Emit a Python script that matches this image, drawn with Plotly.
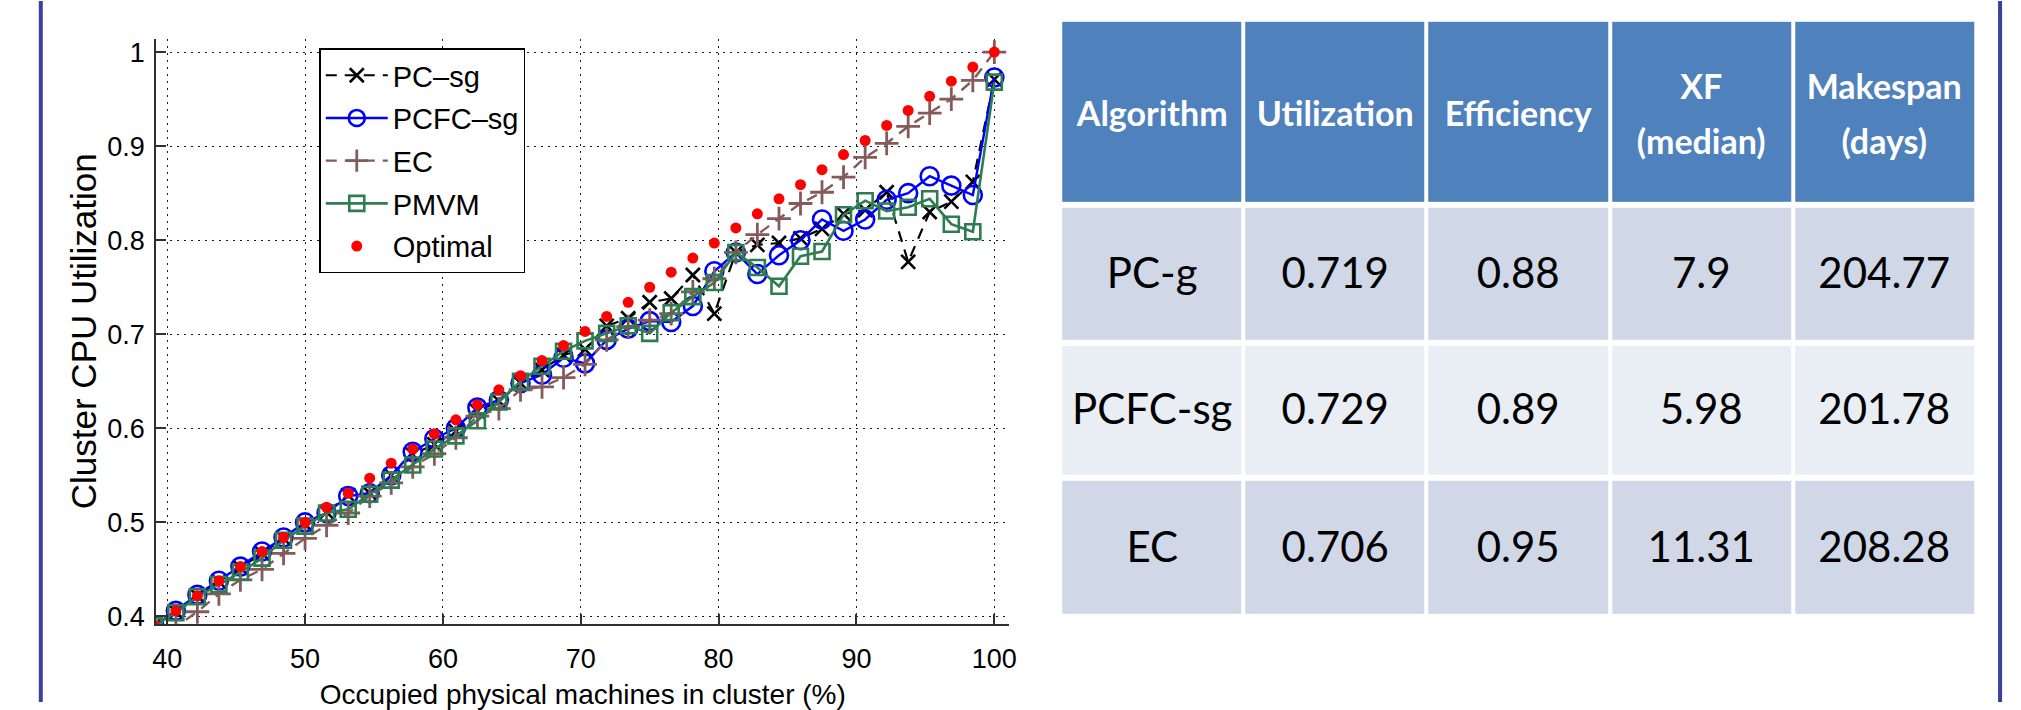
import plotly.graph_objects as go

# ---------------- data ----------------
occupied_pct = [39.06, 40.63, 42.19, 43.75, 45.31, 46.88, 48.44, 50.00, 51.56, 53.13,
                54.69, 56.25, 57.81, 59.38, 60.94, 62.50, 64.06, 65.63, 67.19, 68.75,
                70.31, 71.88, 73.44, 75.00, 76.56, 78.13, 79.69, 81.25, 82.81, 84.38,
                85.94, 87.50, 89.06, 90.63, 92.19, 93.75, 95.31, 96.88, 98.44, 100.00]

pc_sg = [0.390, 0.405, 0.422, 0.437, 0.452, 0.467, 0.483, 0.498, 0.511, 0.529,
         0.531, 0.550, 0.572, 0.583, 0.597, 0.618, 0.629, 0.648, 0.662, 0.678,
         0.684, 0.709, 0.717, 0.734, 0.738, 0.763, 0.722, 0.787, 0.795, 0.797,
         0.802, 0.812, 0.828, 0.832, 0.851, 0.777, 0.830, 0.841, 0.862, 0.971]

pcfc_sg = [0.390, 0.406, 0.423, 0.438, 0.453, 0.469, 0.484, 0.500, 0.510, 0.528,
           0.531, 0.550, 0.575, 0.589, 0.600, 0.622, 0.630, 0.648, 0.657, 0.675,
           0.669, 0.694, 0.706, 0.714, 0.713, 0.730, 0.767, 0.787, 0.764, 0.784,
           0.800, 0.822, 0.810, 0.822, 0.843, 0.850, 0.868, 0.858, 0.848, 0.973]

ec = [0.374, 0.389, 0.405, 0.424, 0.439, 0.450, 0.467, 0.483, 0.497, 0.510,
      0.528, 0.542, 0.559, 0.573, 0.590, 0.613, 0.621, 0.641, 0.644, 0.654,
      0.668, 0.694, 0.708, 0.715, 0.722, 0.745, 0.759, 0.787, 0.806, 0.823,
      0.839, 0.851, 0.867, 0.888, 0.903, 0.921, 0.935, 0.950, 0.970, 1.000]

pmvm = [0.390, 0.404, 0.421, 0.434, 0.447, 0.462, 0.481, 0.496, 0.510, 0.514,
        0.530, 0.545, 0.561, 0.578, 0.592, 0.608, 0.628, 0.650, 0.666, 0.682,
        0.693, 0.701, 0.709, 0.701, 0.723, 0.740, 0.755, 0.787, 0.771, 0.751,
        0.783, 0.788, 0.827, 0.842, 0.831, 0.835, 0.844, 0.817, 0.809, 0.968]

optimal = [0.391, 0.406, 0.422, 0.438, 0.453, 0.469, 0.484, 0.500, 0.516, 0.531,
           0.547, 0.563, 0.578, 0.594, 0.609, 0.625, 0.641, 0.656, 0.672, 0.688,
           0.703, 0.719, 0.734, 0.750, 0.766, 0.781, 0.797, 0.813, 0.828, 0.844,
           0.859, 0.875, 0.891, 0.906, 0.922, 0.938, 0.953, 0.969, 0.984, 1.000]

x_ticks = [40, 50, 60, 70, 80, 90, 100]
y_ticks = [0.4, 0.5, 0.6, 0.7, 0.8, 0.9, 1.0]
y_tick_labels = ["0.4", "0.5", "0.6", "0.7", "0.8", "0.9", "1"]

table_header = ["Algorithm", "Utilization", "Efficiency", "XF<br>(median)", "Makespan<br>(days)"]
algorithms = ["PC-g", "PCFC-sg", "EC"]
utilization = [0.719, 0.729, 0.706]
efficiency = [0.88, 0.89, 0.95]
xf_median = [7.9, 5.98, 11.31]
makespan_days = [204.77, 201.78, 208.28]

# ---------------- layout constants ----------------
W, H = 2021, 710
FONT = "Liberation Sans, Arial, Helvetica, sans-serif"
TFONT = "Lato, Liberation Sans, sans-serif"

fig = go.Figure()

series = [
    ("PC\u2013sg", pc_sg, dict(color="black", width=2.2, dash="11px,8px"),
     dict(symbol="x-thin-open", size=14, line=dict(color="black", width=2.6))),
    ("PCFC\u2013sg", pcfc_sg, dict(color="#0000FF", width=2.4),
     dict(symbol="circle-open", size=18, color="#0000FF", line=dict(color="#0000FF", width=2.6))),
    ("EC", ec, dict(color="#855A5A", width=2.4, dash="11px,8px"),
     dict(symbol="cross-thin-open", size=17, line=dict(color="#855A5A", width=2.8))),
    ("PMVM", pmvm, dict(color="#2E7D50", width=2.6),
     dict(symbol="square-open", size=15, color="#2E7D50", line=dict(color="#2E7D50", width=2.6))),
]
for i, (name, vals, line, marker) in enumerate(series):
    fig.add_trace(go.Scatter(x=occupied_pct, y=vals, name=name, mode="lines+markers",
                             line=line, marker=marker, legendgroup=f"g{i}"))

fig.add_trace(go.Scatter(x=occupied_pct, y=optimal, name="Optimal", mode="markers",
                         marker=dict(symbol="circle", size=11, color="#FF0000"),
                         legendgroup="g5"))

# ---------------- table drawn as a heatmap grid ----------------
header_html = []
for h in table_header:
    parts = h.split("<br>")
    header_html.append("<br>".join(
        f'<span style="color:white;font-size:34px"><b>{p}</b></span>' for p in parts))

rows_text = [header_html]
for a, u, e, xf, m in zip(algorithms, utilization, efficiency, xf_median, makespan_days):
    rows_text.append([a, f"{u}", f"{e}", f"{xf}", f"{m}"])

row_heights = [188, 140, 137, 141]
y_edges = [0]
for hgt in row_heights:
    y_edges.append(y_edges[-1] + hgt)
x_edges = list(range(len(table_header) + 1))
z = [[0] * 5] + [[1 if r % 2 == 0 else 2] * 5 for r in range(len(algorithms))]

fig.add_trace(go.Heatmap(
    x=x_edges, y=y_edges, z=z, text=rows_text, texttemplate="%{text}",
    textfont=dict(family=TFONT, size=42, color="black"),
    colorscale=[[0, "#4F81BD"], [0.5, "#D0D8E8"], [1, "#E9EDF4"]],
    zmin=0, zmax=2, showscale=False, xgap=4, ygap=6, hoverinfo="skip",
    xaxis="x2", yaxis="y2", showlegend=False))

axis_common = dict(showline=True, linecolor="#303030", linewidth=2, ticks="inside",
                   ticklen=10, tickwidth=1.5, tickcolor="#303030", zeroline=False,
                   showgrid=True, gridcolor="#1a1a1a", gridwidth=1, griddash="2px,5px",
                   tickfont=dict(family=FONT, size=27, color="black"))

fig.update_layout(
    width=W, height=H, margin=dict(l=0, r=0, t=0, b=0),
    paper_bgcolor="white", plot_bgcolor="white",
    font=dict(family=FONT, color="black"),
    xaxis=dict(domain=[153 / W, 1011 / W], range=[39.2, 101.1], tickvals=x_ticks,
               ticklabelstandoff=10,
               title=dict(text="Occupied physical machines in cluster (%)",
                          font=dict(family=FONT, size=28), standoff=15),
               anchor="y", **axis_common),
    yaxis=dict(domain=[1 - 631 / H, 1 - 38 / H], range=[0.392, 1.0144],
               tickvals=y_ticks, ticktext=y_tick_labels, ticklabelstandoff=4,
               title=dict(text="Cluster CPU Utilization",
                          font=dict(family=FONT, size=35), standoff=0),
               anchor="x", **axis_common),
    xaxis2=dict(domain=[1062 / W, 1983 / W], range=[0, 5], visible=False, anchor="y2"),
    yaxis2=dict(domain=[1 - 624 / H, 1 - 18 / H], range=[y_edges[-1], 0], visible=False,
                anchor="x2"),
    legend=dict(x=317 / W, y=1 - 48 / H, xanchor="left", yanchor="top",
                bgcolor="white", bordercolor="black", borderwidth=1.5,
                font=dict(family=FONT, size=29, color="black"),
                tracegroupgap=2, itemsizing="trace", itemwidth=62),
    shapes=[
        dict(type="line", xref="paper", yref="paper", x0=37 / W, x1=37 / W, y0=0, y1=1,
             line=dict(color="#3B3F9E", width=4)),
        dict(type="line", xref="paper", yref="paper", x0=2007 / W, x1=2007 / W, y0=0, y1=1,
             line=dict(color="#3B3F9E", width=4)),
    ],
)

fig.write_html("out.html")
